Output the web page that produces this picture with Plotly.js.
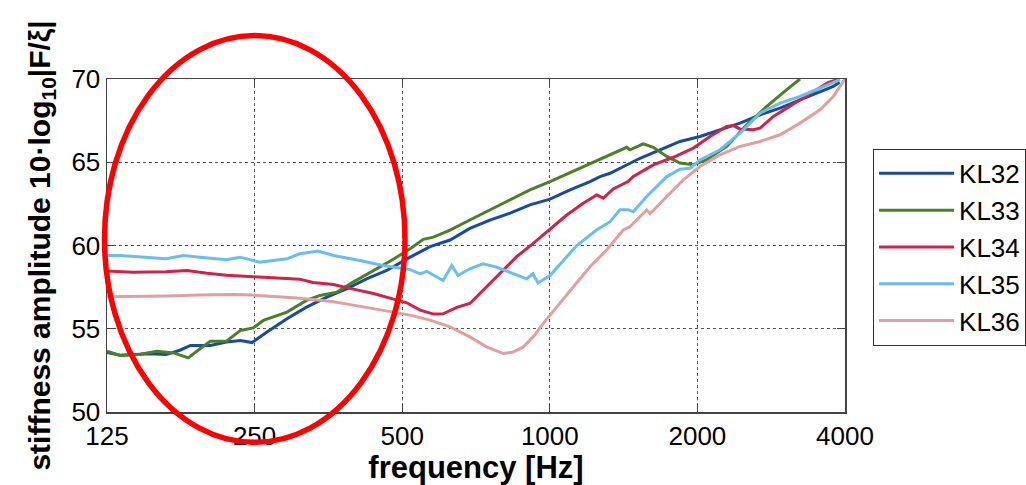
<!DOCTYPE html>
<html>
<head>
<meta charset="utf-8">
<script src="https://cdn.plot.ly/plotly-3.0.1.min.js"></script>
<style>html,body{margin:0;padding:0;background:#fff;}#chart{width:1026px;height:485px;}</style>
</head>
<body>
<div id="chart"></div>
<script>
// Data (frequency in Hz, stiffness amplitude in dB)
const seriesNames = ["KL32", "KL33", "KL34", "KL35", "KL36"];
const seriesColors = ["#1A4A9E", "#4B7F28", "#D0224A", "#6BBDEF", "#E0A0A2"];

const kl32_f = [125,133,153,165,176,185,203,219,234,247,265,291,319,351,385,423,465,519,570,626,687,755,830,911,1001,1100,1208,1266,1327,1390,1444,1527,1678,1843,2025,2224,2443,2684,2948,3238,3557,3786,3900];
const kl32_v = [53.57,53.41,53.5,53.45,53.71,54.0,54.0,54.2,54.3,54.17,54.8,55.6,56.3,56.9,57.4,58.0,58.5,59.3,59.93,60.33,61.03,61.53,61.94,62.44,62.78,63.34,63.84,64.14,64.34,64.64,64.84,65.24,65.75,66.25,66.55,66.95,67.35,67.85,68.25,68.75,69.25,69.55,69.8];

const kl33_f = [125,133,146,158,171,183,193.5,203,219,234,248.5,260.5,291,319,340,368,397,437,472,519,552,579,626,687,755,830,911,1001,1100,1208,1327,1435,1457,1551,1626,1732,1843,1962,2089,2295,2521,2770,3043,3238];
const kl33_v = [53.65,53.4,53.47,53.65,53.55,53.25,53.8,54.25,54.25,54.9,55.05,55.5,56.0,56.7,57.0,57.2,57.8,58.5,59.05,59.8,60.37,60.5,60.93,61.53,62.14,62.74,63.34,63.84,64.38,64.95,65.45,65.9,65.75,66.1,65.9,65.35,64.95,64.85,65.15,65.95,67.25,68.35,69.36,70.0];

const kl34_f = [125,141,165,182,200,219,248.5,282,309,329,362,397.5,437,480,511,544,579,606,646,687,732,791,856,925,1001,1083,1170,1246,1286,1347,1444,1480,1626,1786,1962,2122,2295,2367,2443,2600,2684,2857,3043,3238,3446,3700,3900];
const kl34_v = [58.47,58.39,58.43,58.5,58.33,58.22,58.12,58.03,57.98,57.78,57.66,57.38,57.12,56.78,56.56,56.12,55.88,55.9,56.28,56.52,57.32,58.33,59.33,60.13,60.97,61.83,62.54,63.04,62.84,63.4,63.84,64.14,64.84,65.3,65.85,66.55,67.15,67.2,67.0,66.95,67.05,67.75,68.25,68.75,69.25,69.8,70.0];

const kl35_f = [125,133,165,179,193.5,219,233.5,256,291,309,337,362,410,457,519,544,561,606,631,650,687,731,779,841,897,924,946,1001,1064,1135,1246,1327,1390,1444,1480,1576,1732,1843,1932,2025,2224,2443,2684,2948,3238,3557,3907];
const kl35_v = [59.4,59.4,59.2,59.4,59.3,59.15,59.3,59.0,59.2,59.5,59.67,59.4,59.1,58.8,58.55,58.3,58.45,57.9,58.8,58.2,58.6,58.9,58.7,58.3,58.0,58.3,57.75,58.2,59.1,60.0,60.93,61.43,62.15,62.15,62.03,62.94,64.14,64.58,64.64,65.14,65.75,66.75,67.95,68.55,68.95,69.46,69.96];

const kl36_f = [125,141,165,193.5,226,248.5,273,300,329,362,397.5,437,480,519,570,626,687,743,804,842,883,925,970,1033,1117,1208,1306,1412,1457,1576,1601,1732,1872,2025,2224,2443,2684,2948,3238,3557,3786,3968,4000];
const kl36_v = [56.92,56.92,56.96,57.02,57.06,57.02,56.96,56.86,56.76,56.62,56.42,56.22,56.02,55.82,55.52,55.11,54.51,53.91,53.51,53.6,53.91,54.51,55.32,56.32,57.52,58.72,59.73,60.93,61.13,62.14,61.9,62.94,63.94,64.74,65.45,65.95,66.25,66.65,67.35,68.15,68.95,69.86,70.0];

const xTickVals = [125, 250, 500, 1000, 2000, 4000];
const xTickText = ["125", "250", "500", "1000", "2000", "4000"];
const yTickVals = [50, 55, 60, 65, 70];

const allF = [kl32_f, kl33_f, kl34_f, kl35_f, kl36_f];
const allV = [kl32_v, kl33_v, kl34_v, kl35_v, kl36_v];

const FONT = '"Liberation Sans", Arial, Helvetica, sans-serif';

const traces = seriesNames.map((name, i) => ({
  x: allF[i], y: allV[i], name: name, type: 'scatter', mode: 'lines',
  line: {color: seriesColors[i], width: 3}
}));

const layout = {
  width: 1026, height: 485,
  margin: {l: 107, r: 181, t: 79, b: 73, pad: 0, autoexpand: false},
  paper_bgcolor: '#ffffff', plot_bgcolor: '#ffffff',
  font: {family: FONT, color: '#000000', size: 26},
  showlegend: true,
  legend: {
    x: 1.038, y: 0.79, xanchor: 'left', yanchor: 'top',
    bgcolor: '#ffffff', bordercolor: '#333333', borderwidth: 1,
    font: {family: FONT, size: 26, color: '#000000'},
    itemwidth: 75
  },
  xaxis: {
    type: 'log', range: [Math.log10(125), Math.log10(4000)],
    tickmode: 'array', tickvals: xTickVals, ticktext: xTickText,
    ticks: 'inside', ticklen: 8, tickwidth: 1, tickcolor: '#444444',
    showline: true, linecolor: '#444444', linewidth: 1.5, mirror: 'ticks',
    showgrid: true, gridcolor: '#555555', gridwidth: 1, griddash: 'dot',
    zeroline: false,
    tickfont: {family: FONT, size: 26, color: '#000000'},
    title: {text: 'frequency [Hz]', font: {family: FONT, size: 31, color: '#000000', weight: 'bold'}, standoff: 5}
  },
  yaxis: {
    range: [50, 70], tickmode: 'array', tickvals: yTickVals,
    ticks: 'inside', ticklen: 8, tickwidth: 1, tickcolor: '#444444',
    showline: true, linecolor: '#444444', linewidth: 1.5, mirror: 'ticks',
    showgrid: true, gridcolor: '#555555', gridwidth: 1, griddash: 'dot',
    zeroline: false,
    tickfont: {family: FONT, size: 26, color: '#000000'},
    title: {text: 'stiffness amplitude 10·log<sub>10</sub>|F/ξ|', font: {family: FONT, size: 30, color: '#000000', weight: 'bold'}, standoff: 12}
  },
  shapes: [{
    type: 'circle', xref: 'paper', yref: 'paper',
    x0: -0.0034, x1: 0.4038, y0: -0.0912, y1: 1.1303,
    line: {color: '#FF0000', width: 5.5}, layer: 'above'
  }]
};

Plotly.newPlot('chart', traces, layout, {displayModeBar: false, staticPlot: true});
</script>
</body>
</html>
